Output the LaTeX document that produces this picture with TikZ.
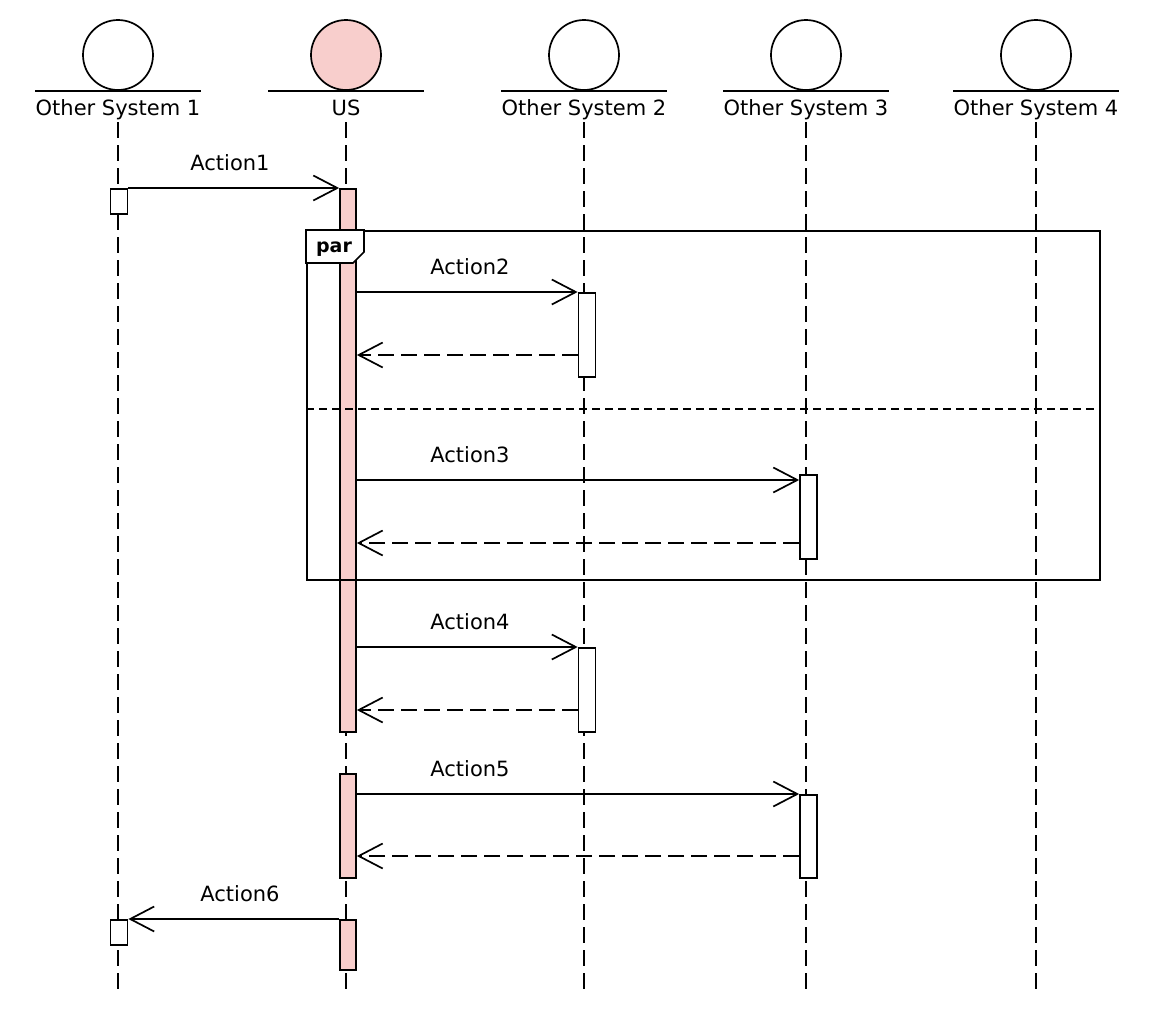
\documentclass[tikz,border=0pt]{standalone}
\usepackage{fontspec}
\setmainfont{DejaVu Sans}
\usetikzlibrary{arrows.meta}
\definecolor{usfill}{RGB}{248,206,204}
\begin{document}
\begin{tikzpicture}[x=1pt,y=-1pt,
  headc/.style={circle,draw,line width=1.7pt,minimum size=70pt,inner sep=0pt,fill=white},
  lbl/.style={font=\fontsize{21}{25}\selectfont,inner sep=0pt,text height=16pt,text depth=5pt,anchor=base,minimum width=155pt},
  life/.style={line width=1.8pt,dash pattern=on 16pt off 7pt},
  act/.style={draw,line width=1.7pt,fill=white,minimum width=17pt,inner sep=0pt,anchor=north},
  usact/.style={act,fill=usfill,minimum width=16pt},
  msg/.style={line width=1.7pt,-{Straight Barb[length=24pt,width=25pt]}},
  ret/.style={msg,dash pattern=on 16pt off 7pt},
  mlbl/.style={font=\fontsize{21}{25}\selectfont,inner sep=0pt,anchor=base},
]
\useasboundingbox[fill=white] (0,0) rectangle (1154,1018);

% heads
\node[headc] (h1) at (118,55) {};
\node[headc,fill=usfill] (h2) at (346,55) {};
\node[headc] (h3) at (584,55) {};
\node[headc] (h4) at (806,55) {};
\node[headc] (h5) at (1036,55) {};
\node[lbl] (l1) at (118,115) {Other System 1};
\node[lbl] (l2) at (346,115) {US};
\node[lbl] (l3) at (584,115) {Other System 2};
\node[lbl] (l4) at (806,115) {Other System 3};
\node[lbl] (l5) at (1036,115) {Other System 4};
\foreach \i in {1,...,5}{
  \draw[line width=1.7pt] (l\i.west |- h\i.south) -- (l\i.east |- h\i.south);
}

% lifelines
\coordinate (e1) at (118,990);
\coordinate (e2) at (346,990);
\coordinate (e3) at (584,990);
\coordinate (e4) at (806,990);
\coordinate (e5) at (1036,990);
\foreach \i in {1,...,5}{
  \draw[life] ([yshift=-2pt]l\i.south) -- (e\i);
}

% activations
\node[act, minimum height=25pt] (o1a) at (119,188) {};
\node[usact, minimum height=543pt] (ua1) at (348,188) {};
\node[act, minimum height=84pt] (o2a) at (587,292) {};
\node[act, minimum height=84pt] (o3a) at (808.5,474) {};
\node[act, minimum height=84pt] (o2b) at (587,647) {};
\node[usact, minimum height=104pt] (ua2) at (348,773) {};
\node[act, minimum height=83pt] (o3b) at (808.5,794) {};
\node[usact, minimum height=50pt] (ua3) at (348,919) {};
\node[act, minimum height=25pt] (o1b) at (119,919) {};

% par frame
\node[draw, line width=1.7pt, minimum width=793pt, minimum height=349pt, anchor=north west, inner sep=0pt] (par) at (306,230) {};
\coordinate (dv) at (0,409);
\draw[dash pattern=on 8pt off 5pt, line width=1.7pt] (par.west |- dv) -- (par.east |- dv);
\draw[fill=white, line width=1.7pt] (par.north west) -- ++(58,0) -- ++(0,22) -- ++(-11,11) -- ++(-47,0) -- cycle;
\node[font=\fontsize{19}{23}\selectfont\bfseries, anchor=base, inner sep=0pt] (partxt) at (334,252) {par};

% messages
\draw[msg] (o1a.north east) -- (ua1.north west);
\node[mlbl] (t1) at (230,170) {Action1};

\draw[msg] (ua1.east |- o2a.north) -- (o2a.north west);
\node[mlbl] (t2) at (470,274) {Action2};
\coordinate (r2) at (0,355);
\draw[ret] (o2a.west |- r2) -- (ua1.east |- r2);

\coordinate (a3) at (0,480);
\draw[msg] (ua1.east |- a3) -- (o3a.west |- a3);
\node[mlbl] (t3) at (470,462) {Action3};
\coordinate (r3) at (0,543);
\draw[ret] (o3a.west |- r3) -- (ua1.east |- r3);

\draw[msg] (ua1.east |- o2b.north) -- (o2b.north west);
\node[mlbl] (t4) at (470,629) {Action4};
\coordinate (r4) at (0,710);
\draw[ret] (o2b.west |- r4) -- (ua1.east |- r4);

\draw[msg] (ua2.east |- o3b.north) -- (o3b.north west);
\node[mlbl] (t5) at (470,776) {Action5};
\coordinate (r5) at (0,856);
\draw[ret] (o3b.west |- r5) -- (ua2.east |- r5);

\draw[msg] (ua3.north west) -- (o1b.north east);
\node[mlbl] (t6) at (240,901) {Action6};
\end{tikzpicture}
\end{document}
